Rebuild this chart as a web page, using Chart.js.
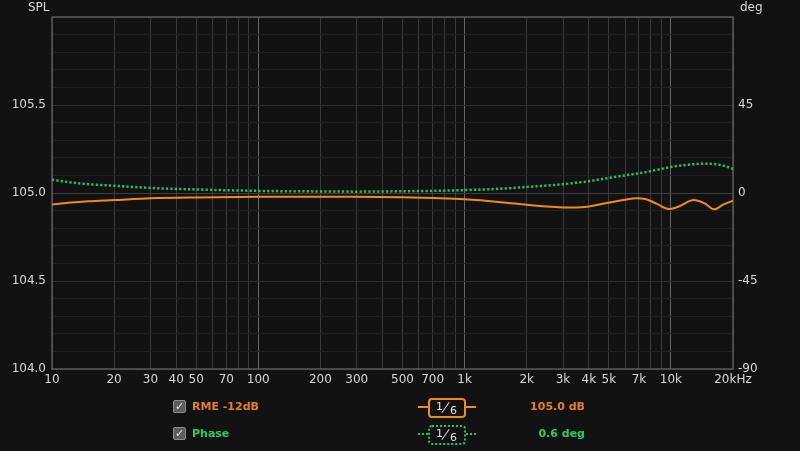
<!DOCTYPE html>
<html>
<head>
<meta charset="utf-8">
<script src="https://cdn.jsdelivr.net/npm/chart.js@4/dist/chart.umd.min.js"></script>
<style>
  html, body { margin:0; padding:0; background:#121212; }
  #wrap { position:relative; width:800px; height:451px; background:#121212; overflow:hidden; font-family:"DejaVu Sans", sans-serif; }
  #c { position:absolute; left:0; top:0; }
  .t { position:absolute; white-space:nowrap; }
  .axt { color:#d8d8d8; font-size:12px; line-height:14px; top:0px; }
  .cb { position:absolute; width:11px; height:11px; border:1px solid #8a8a8a; border-radius:2px; background:#5c5c5c; color:#e6e6e6; font-size:11px; line-height:11px; text-align:center; }
  .lbl { font-weight:bold; font-size:11px; line-height:14px; }
  .box { position:absolute; width:34px; height:16px; border-radius:4px; }
  .frac { position:absolute; color:#e0e0e0; font-size:11px; line-height:12px; }
  .sl { position:absolute; width:1px; height:13px; background:#e0e0e0; transform:rotate(35deg); }
</style>
</head>
<body>
<div id="wrap">
  <canvas id="c" width="800" height="451"></canvas>
  <div class="t axt" style="left:28px;">SPL</div>
  <div class="t axt" style="left:740px;">deg</div>

  <!-- legend row 1 -->
  <div class="cb" style="left:173px;top:400px;">✓</div>
  <div class="t lbl" style="left:192px;top:400px;color:#e8821a;" id="name1"></div>
  <div style="position:absolute;left:418px;top:406px;width:10px;height:2px;background:#f08c1c;"></div>
  <div style="position:absolute;left:466px;top:406px;width:10px;height:2px;background:#f08c1c;"></div>
  <div class="box" style="left:428px;top:398px;border:2px solid #f08c1c;"></div>
  <div class="frac" style="left:436px;top:401px;">1</div>
  <div class="sl" style="left:445px;top:401px;"></div>
  <div class="frac" style="left:450px;top:405px;">6</div>
  <div class="t lbl" style="right:215px;top:400px;color:#e8821a;" id="val1"></div>

  <!-- legend row 2 -->
  <div class="cb" style="left:173px;top:427px;">✓</div>
  <div class="t lbl" style="left:192px;top:427px;color:#2bcc68;" id="name2"></div>
  <div style="position:absolute;left:418px;top:433px;width:10px;height:0;border-top:2px dotted #22c462;"></div>
  <div style="position:absolute;left:466px;top:433px;width:10px;height:0;border-top:2px dotted #22c462;"></div>
  <div class="box" style="left:428px;top:425px;border:2px dotted #22c462;"></div>
  <div class="frac" style="left:436px;top:428px;">1</div>
  <div class="sl" style="left:445px;top:428px;"></div>
  <div class="frac" style="left:450px;top:432px;">6</div>
  <div class="t lbl" style="right:215px;top:427px;color:#2bcc68;" id="val2"></div>
</div>
<script>
// ---- data ----
const freqs      = [10, 12, 15, 20, 30, 50, 100, 200, 300, 500, 700, 1000, 1500, 2000, 2500, 3000, 3500, 4000, 4500, 5000, 6000, 6800, 7500, 8500, 9800, 11000, 12900, 14500, 16200, 18000, 20000];
const splValues  = [104.934, 104.944, 104.953, 104.960, 104.970, 104.975, 104.978, 104.979, 104.979, 104.976, 104.971, 104.964, 104.948, 104.933, 104.923, 104.918, 104.917, 104.923, 104.935, 104.945, 104.962, 104.970, 104.966, 104.940, 104.909, 104.925, 104.960, 104.942, 104.907, 104.935, 104.956];
const phaseValues= [6.8, 5.6, 4.5, 3.7, 2.6, 1.8, 1.1, 0.8, 0.7, 0.9, 1.1, 1.5, 2.2, 3.1, 3.8, 4.5, 5.3, 6.0, 6.9, 7.7, 9.0, 9.9, 10.6, 11.8, 13.1, 14.0, 14.7, 15.0, 14.8, 14.0, 12.3];

const xGridValues   = [10,20,30,40,50,60,70,80,90,100,200,300,400,500,600,700,800,900,1000,2000,3000,4000,5000,6000,7000,8000,9000,10000,20000];
const xLabelValues  = [10,20,30,40,50,70,100,200,300,500,700,1000,2000,3000,4000,5000,7000,10000,20000];
const xLabelTexts   = ['10','20','30','40','50','70','100','200','300','500','700','1k','2k','3k','4k','5k','7k','10k','20kHz'];
const xDecades      = [100, 1000, 10000];
const yLeftLabels   = [104.0, 104.5, 105.0, 105.5];
const yRightLabels  = [-90, -45, 0, 45];

const seriesNames  = ['RME -12dB', 'Phase'];
const seriesReadout = ['105.0 dB', '0.6 deg'];

document.getElementById('name1').textContent = seriesNames[0];
document.getElementById('name2').textContent = seriesNames[1];
document.getElementById('val1').textContent = seriesReadout[0];
document.getElementById('val2').textContent = seriesReadout[1];

const splData = freqs.map((f, i) => ({x: f, y: splValues[i]}));
const phaseData = freqs.map((f, i) => ({x: f, y: phaseValues[i]}));

const frame = {
  id: 'frame',
  beforeDatasetsDraw(chart) {
    const a = chart.chartArea, ctx = chart.ctx;
    ctx.save();
    ctx.strokeStyle = '#5a5a5a';
    ctx.lineWidth = 1.5;
    ctx.strokeRect(a.left, a.top, a.right - a.left, a.bottom - a.top);
    ctx.restore();
  }
};

new Chart(document.getElementById('c'), {
  type: 'line',
  data: {
    datasets: [
      { label: seriesNames[1], data: phaseData, yAxisID: 'y2', borderColor: '#22c462', borderWidth: 2.5,
        borderDash: [2.2, 2.2], pointRadius: 0, cubicInterpolationMode: 'monotone', fill: false },
      { label: seriesNames[0], data: splData, yAxisID: 'y', borderColor: '#f08c1c', borderWidth: 2,
        pointRadius: 0, cubicInterpolationMode: 'monotone', fill: false }
    ]
  },
  options: {
    responsive: false,
    animation: false,
    events: [],
    layout: { padding: { top: 17, left: 0, right: 0, bottom: 0 } },
    plugins: { legend: { display: false }, tooltip: { enabled: false } },
    scales: {
      x: {
        type: 'logarithmic', min: 10, max: 20000,
        afterBuildTicks: (s) => { s.ticks = xGridValues.map(v => ({ value: v })); },
        afterFit: (s) => { s.height = 82; },
        border: { display: false },
        grid: {
          drawTicks: false,
          color: (ctx) => xDecades.includes(ctx.tick && ctx.tick.value) ? '#666666' : '#3a3a3a',
          lineWidth: 1
        },
        ticks: {
          autoSkip: false, maxRotation: 0, padding: 4,
          color: '#d8d8d8', font: { family: 'DejaVu Sans', size: 12 },
          callback: (v) => { const i = xLabelValues.indexOf(v); return i >= 0 ? xLabelTexts[i] : ''; }
        }
      },
      y: {
        type: 'linear', position: 'left', min: 104, max: 106,
        afterFit: (s) => { s.width = 52; },
        border: { display: false },
        grid: {
          drawTicks: false,
          color: (ctx) => {
            const v = ctx.tick ? ctx.tick.value : 0;
            if (Math.abs(v - 105) < 1e-6) return '#3e3e3e';
            return Math.abs(v * 2 - Math.round(v * 2)) < 1e-6 ? '#2e2e2e' : '#202020';
          }
        },
        ticks: {
          stepSize: 0.1, padding: 6, autoSkip: false,
          color: '#d8d8d8', font: { family: 'DejaVu Sans', size: 12 },
          callback: (v) => yLeftLabels.some(l => Math.abs(l - v) < 1e-6) ? Number(v).toFixed(1) : ''
        }
      },
      y2: {
        type: 'linear', position: 'right', min: -90, max: 90,
        afterFit: (s) => { s.width = 67; },
        border: { display: false },
        grid: { display: false, drawTicks: false },
        ticks: {
          stepSize: 45, padding: 5, autoSkip: false,
          color: '#d8d8d8', font: { family: 'DejaVu Sans', size: 12 },
          callback: (v) => yRightLabels.includes(v) ? String(v) : ''
        }
      }
    }
  },
  plugins: [frame]
});
</script>
</body>
</html>
